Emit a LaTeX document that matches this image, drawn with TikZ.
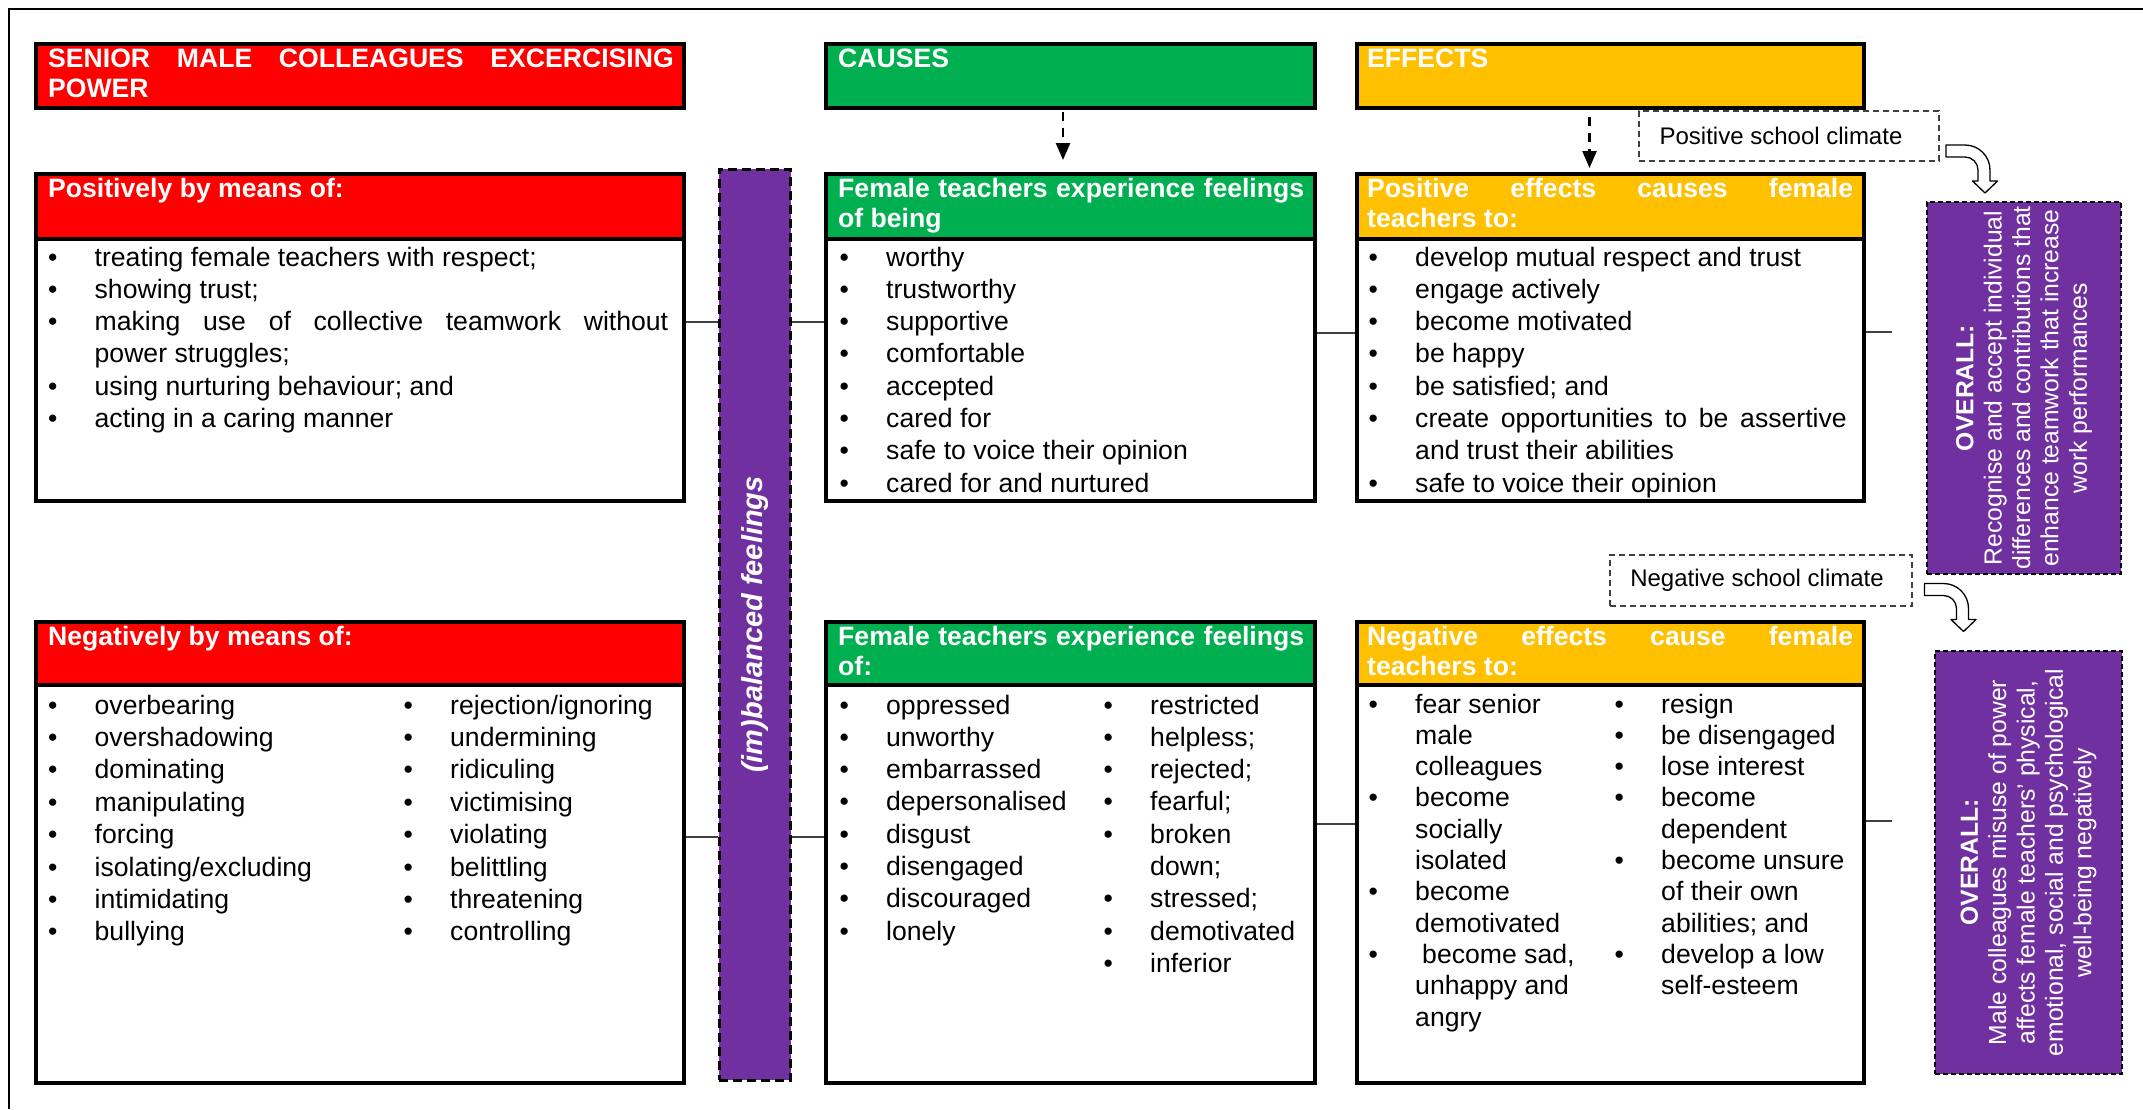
\documentclass[tikz,border=0pt]{standalone}
\usepackage{fontspec}
\usepackage{graphicx}
\setmainfont{Liberation Sans}
\usetikzlibrary{arrows.meta,calc}
\definecolor{cred}{HTML}{FF0000}
\definecolor{cgreen}{HTML}{00B050}
\definecolor{cyellow}{HTML}{FFC000}
\definecolor{cpurple}{HTML}{7030A0}
\newcommand{\bi}[1]{\makebox[46.5pt][l]{\textbullet}#1\par}
\newcommand{\ci}[1]{\hspace*{46.5pt}#1\par}
\newcommand{\jl}[2]{\makebox[#1][s]{#2}}
\newcommand{\fbody}{\fontsize{26.6}{32.3}\selectfont}
\tikzset{
  blk/.style={draw=black, line width=4pt, inner sep=0pt, anchor=north west},
  txt/.style={inner sep=0pt, anchor=base west, font=\fbody},
  hdr/.style={inner sep=0pt, anchor=base west, text=white, font=\fontsize{26.6}{30}\selectfont\bfseries},
  conn/.style={draw=black!75, line width=2pt},
  dasharrow/.style={draw=black, line width=2.5pt, dash pattern=on 9pt off 7pt, -{Triangle[length=17pt,width=14pt]}},
  climate/.style={draw=black!75, line width=1.6pt, dash pattern=on 6pt off 4pt, fill=white, inner sep=0pt, font=\fontsize{24}{28}\selectfont},
  overall/.style={draw=black, line width=1.5pt, dash pattern=on 5pt off 3pt, fill=cpurple, text=white, inner sep=0pt},
  hollow/.style={draw=black, line width=1.3pt, fill=white, line join=round},
  frameline/.style={draw=black, line width=2pt}
}
\begin{document}
\begin{tikzpicture}[x=1pt,y=-1pt]
\useasboundingbox (0,0) rectangle (2143,1109);
\fill[white] (0,0) rectangle (2143,1109);
\draw[frameline] (9,1109) -- (9,9) -- (2143,9);

% header row
\node[blk, fill=cred, minimum width=648.5pt, minimum height=64pt] (senior) at (33.5,41.5) {};
\node[blk, fill=cgreen, minimum width=489pt, minimum height=64pt] (causes) at (824,41.5) {};
\node[blk, fill=cyellow, minimum width=506.5pt, minimum height=64pt] (effects) at (1355,41.5) {};
\node[hdr] (seniort) at (48,67) {\parbox[t]{640pt}{\jl{625.5pt}{SENIOR MALE COLLEAGUES EXCERCISING}\par POWER}};
\node[hdr] (causest) at (838,67) {CAUSES};
\node[hdr] (effectst) at (1367,67) {EFFECTS};

% positive row
\node[blk, fill=cred, minimum width=648.5pt, minimum height=65pt] (rph) at (33.5,172) {};
\node[blk, fill=white, minimum width=648.5pt, minimum height=262pt] (rpb) at (33.5,237) {};
\node[blk, fill=cgreen, minimum width=489pt, minimum height=65pt] (gph) at (824,172) {};
\node[blk, fill=white, minimum width=489pt, minimum height=262pt] (gpb) at (824,237) {};
\node[blk, fill=cyellow, minimum width=506.5pt, minimum height=65pt] (yph) at (1355,172) {};
\node[blk, fill=white, minimum width=506.5pt, minimum height=262pt] (ypb) at (1355,237) {};

\node[hdr] (rpht) at (48,197) {Positively by means of:};
\node[hdr] (gpht) at (838,197) {\parbox[t]{480pt}{\jl{466pt}{Female teachers experience feelings}\par of being}};
\node[hdr] (ypht) at (1367,197) {\parbox[t]{500pt}{\jl{486pt}{Positive effects causes female}\par teachers to:}};

\node[txt] (rpbt) at (48,266) {\parbox[t]{640pt}{%
\bi{treating female teachers with respect;}
\bi{showing trust;}
\bi{\jl{573.5pt}{making use of collective teamwork without}}
\ci{power struggles;}
\bi{using nurturing behaviour; and}
\bi{acting in a caring manner}}};
\node[txt] (gpbt) at (839.5,266) {\parbox[t]{470pt}{%
\bi{worthy}
\bi{trustworthy}
\bi{supportive}
\bi{comfortable}
\bi{accepted}
\bi{cared for}
\bi{safe to voice their opinion}
\bi{cared for and nurtured}}};
\node[txt] (ypbt) at (1368.5,266) {\parbox[t]{490pt}{%
\bi{develop mutual respect and trust}
\bi{engage actively}
\bi{become motivated}
\bi{be happy}
\bi{be satisfied; and}
\bi{\jl{431.5pt}{create opportunities to be assertive}}
\ci{and trust their abilities}
\bi{safe to voice their opinion}}};

% negative row
\node[blk, fill=cred, minimum width=648.5pt, minimum height=63pt] (rnh) at (33.5,620) {};
\node[blk, fill=white, minimum width=648.5pt, minimum height=398pt] (rnb) at (33.5,683) {};
\node[blk, fill=cgreen, minimum width=489pt, minimum height=63pt] (gnh) at (824,620) {};
\node[blk, fill=white, minimum width=489pt, minimum height=398pt] (gnb) at (824,683) {};
\node[blk, fill=cyellow, minimum width=506.5pt, minimum height=63pt] (ynh) at (1355,620) {};
\node[blk, fill=white, minimum width=506.5pt, minimum height=398pt] (ynb) at (1355,683) {};

\node[hdr] (rnht) at (48,645) {Negatively by means of:};
\node[hdr] (gnht) at (838,645) {\parbox[t]{480pt}{\jl{466pt}{Female teachers experience feelings}\par of:}};
\node[hdr] (ynht) at (1367,645) {\parbox[t]{500pt}{\jl{486pt}{Negative effects cause female}\par teachers to:}};

\node[txt, font=\fontsize{26.6}{32.4}\selectfont] (rnbl) at (48,714) {\parbox[t]{340pt}{%
\bi{overbearing}
\bi{overshadowing}
\bi{dominating}
\bi{manipulating}
\bi{forcing}
\bi{isolating/excluding}
\bi{intimidating}
\bi{bullying}}};
\node[txt, font=\fontsize{26.6}{32.4}\selectfont] (rnbr) at (403.5,714) {\parbox[t]{275pt}{%
\bi{rejection/ignoring}
\bi{undermining}
\bi{ridiculing}
\bi{victimising}
\bi{violating}
\bi{belittling}
\bi{threatening}
\bi{controlling}}};
\node[txt, font=\fontsize{26.6}{32.3}\selectfont] (gnbl) at (839.5,714) {\parbox[t]{260pt}{%
\bi{oppressed}
\bi{unworthy}
\bi{embarrassed}
\bi{depersonalised}
\bi{disgust}
\bi{disengaged}
\bi{discouraged}
\bi{lonely}}};
\node[txt, font=\fontsize{26.6}{32.3}\selectfont] (gnbr) at (1103.5,714) {\parbox[t]{205pt}{%
\bi{restricted}
\bi{helpless;}
\bi{rejected;}
\bi{fearful;}
\bi{broken}
\ci{down;}
\bi{stressed;}
\bi{demotivated}
\bi{inferior}}};
\node[txt, font=\fontsize{26.6}{31.3}\selectfont] (ynbl) at (1368.5,713) {\parbox[t]{245pt}{%
\bi{fear senior}
\ci{male}
\ci{colleagues}
\bi{become}
\ci{socially}
\ci{isolated}
\bi{become}
\ci{demotivated}
\bi{\hspace*{7pt}become sad,}
\ci{unhappy and}
\ci{angry}}};
\node[txt, font=\fontsize{26.6}{31.3}\selectfont] (ynbr) at (1614.5,713) {\parbox[t]{245pt}{%
\bi{resign}
\bi{be disengaged}
\bi{lose interest}
\bi{become}
\ci{dependent}
\bi{become unsure}
\ci{of their own}
\ci{abilities; and}
\bi{develop a low}
\ci{self-esteem}}};

% imbalanced bar
\node[draw=black, line width=3pt, dash pattern=on 9pt off 5pt, fill=cpurple, inner sep=0pt,
      minimum width=71.6pt, minimum height=911pt, text=white,
      font=\fontsize{29}{33}\selectfont\bfseries\itshape] (imb) at (754.8,624.5)
      {\rotatebox{90}{(im)balanced feelings}};

% overall boxes
\node[overall, minimum width=194pt, minimum height=372pt] (opos) at (2024,388)
  {\rotatebox{90}{\parbox{368pt}{\centering\fontsize{24.7}{28.4}\selectfont
  \textbf{OVERALL:}\\Recognise and accept individual\\differences and contributions that\\enhance teamwork that increase\\work performances}}};
\node[overall, minimum width=187pt, minimum height=423pt] (oneg) at (2028.5,862.5)
  {\rotatebox{90}{\parbox{410pt}{\centering\fontsize{24.7}{28.4}\selectfont
  \textbf{OVERALL:}\\Male colleagues misuse of power\\affects female teachers’ physical,\\emotional, social and psychological\\well-being negatively}}};

% climate boxes
\node[climate, minimum width=300pt, minimum height=50pt] (pclim) at (1789,136) {\hspace*{-16pt}Positive school climate};
\node[climate, minimum width=302pt, minimum height=51pt] (nclim) at (1761,580.5) {\hspace*{-8pt}Negative school climate};

% dashed arrows
\draw[dasharrow, shorten <=2pt, shorten >=12pt] (causes.south -| 1063,0) -- (gph.north -| 1063,0);
\draw[dasharrow, shorten <=7pt, shorten >=4pt] (effects.south -| 1589.5,0) -- (yph.north -| 1589.5,0);

% connectors
\coordinate (cpl) at (0,322);
\coordinate (cpr) at (0,333);
\coordinate (pstub) at (1892,332);
\coordinate (cnl) at (0,837);
\coordinate (cnr) at (0,824);
\coordinate (nstub) at (1892,820.5);
\draw[conn] (rpb.east |- cpl) -- (imb.west |- cpl);
\draw[conn] (imb.east |- cpl) -- (gpb.west |- cpl);
\draw[conn] (gpb.east |- cpr) -- (ypb.west |- cpr);
\draw[conn] (ypb.east |- pstub) -- (pstub);
\draw[conn] (rnb.east |- cnl) -- (imb.west |- cnl);
\draw[conn] (imb.east |- cnl) -- (gnb.west |- cnl);
\draw[conn] (gnb.east |- cnr) -- (ynb.west |- cnr);
\draw[conn] (ynb.east |- nstub) -- (nstub);

% hollow curved arrows
\coordinate (parr) at (1946,145);
\coordinate (narr) at (1924.5,583.5);
\foreach \s in {parr,narr}{
\begin{scope}[shift={(\s)}]
\draw[hollow] (0,0) -- (19,0) .. controls (32.8,0) and (44,11.2) .. (44,25) -- (44,36)
  -- (51.5,36) -- (39,48) -- (26.5,36) -- (32,36) -- (32,25)
  .. controls (32,17.8) and (26.2,12) .. (19,12) -- (0,12) -- cycle;
\end{scope}}
\end{tikzpicture}
\end{document}
